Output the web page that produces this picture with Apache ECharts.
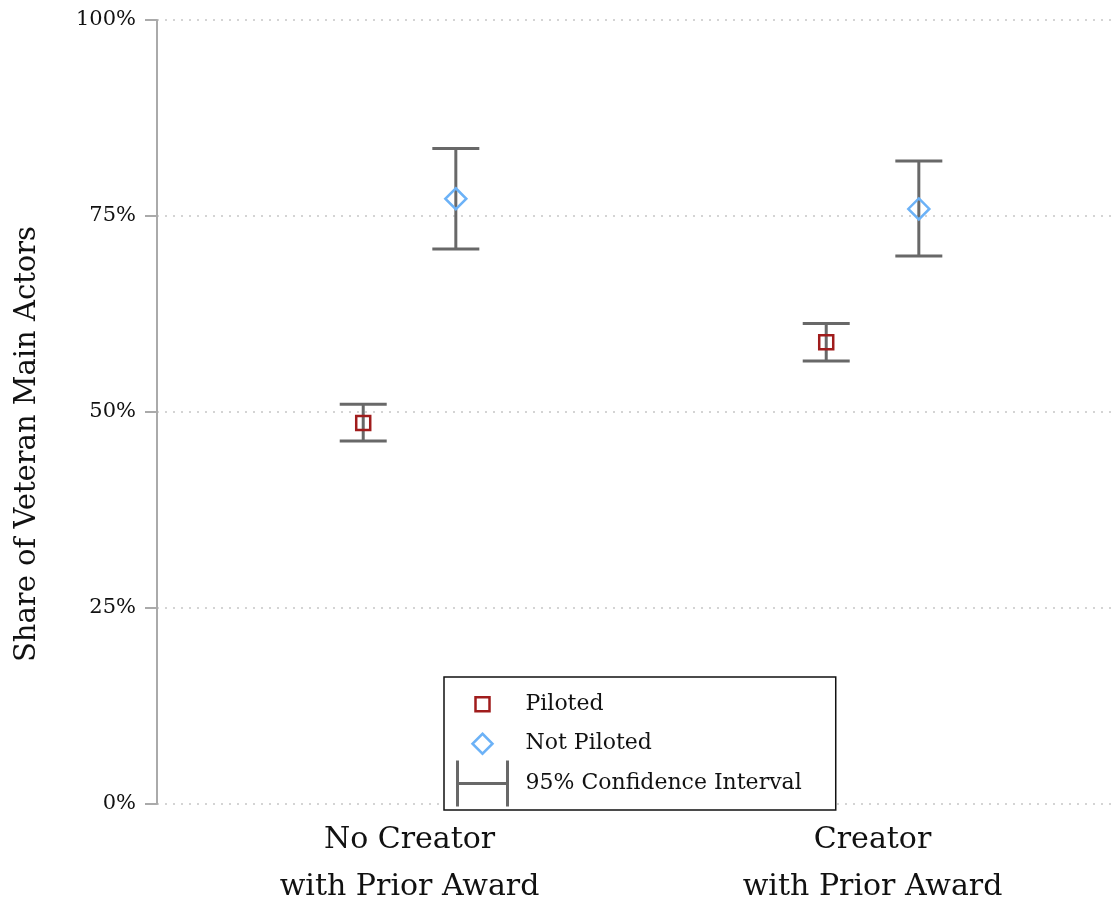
<!DOCTYPE html>
<html>
<head>
<meta charset="utf-8">
<script src="https://cdn.jsdelivr.net/npm/echarts@6/dist/echarts.min.js"></script>
<style>
  html, body { margin: 0; padding: 0; background: #fff; }
  #chart { width: 1117px; height: 911px; }
</style>
</head>
<body>
<div id="chart"></div>
<script>
// Share of veteran main actors, by creator award history and pilot status
const categories = ['No Creator\nwith Prior Award', 'Creator\nwith Prior Award'];
const piloted = [48.6, 58.9];
const pilotedLow = [46.3, 56.5];
const pilotedHigh = [51.0, 61.3];
const notPiloted = [77.2, 75.9];
const notPilotedLow = [70.8, 69.9];
const notPilotedHigh = [83.6, 82.0];
const yTicks = [0, 25, 50, 75, 100];

// horizontal offset of each series within its group (in category units)
const OFFSET = 0.1;
const FONT = 'DejaVu Serif';
const TEXT = '#111';
const CI_COLOR = '#686868';
const CAP = 47;

const pilotedPts = piloted.map((v, i) => [i + 1 - OFFSET, v]);
const notPilotedPts = notPiloted.map((v, i) => [i + 1 + OFFSET, v]);
const ciPts = [
  ...piloted.map((v, i) => [i + 1 - OFFSET, pilotedLow[i], pilotedHigh[i]]),
  ...notPiloted.map((v, i) => [i + 1 + OFFSET, notPilotedLow[i], notPilotedHigh[i]])
];

function renderCI(params, api) {
  const x = api.value(0);
  const top = api.coord([x, api.value(2)]);
  const bot = api.coord([x, api.value(1)]);
  const h = CAP / 2;
  const style = { stroke: CI_COLOR, lineWidth: 3 };
  return {
    type: 'group',
    children: [
      { type: 'line', shape: { x1: top[0], y1: top[1], x2: bot[0], y2: bot[1] }, style },
      { type: 'line', shape: { x1: top[0] - h, y1: top[1], x2: top[0] + h, y2: top[1] }, style },
      { type: 'line', shape: { x1: bot[0] - h, y1: bot[1], x2: bot[0] + h, y2: bot[1] }, style }
    ]
  };
}

const chart = echarts.init(document.getElementById('chart'), null, { renderer: 'canvas' });
chart.setOption({
  animation: false,
  backgroundColor: '#fff',
  grid: { left: 157, right: 2, top: 20, bottom: 101, containLabel: false },
  xAxis: {
    type: 'value',
    min: 0.4546,
    max: 2.5237,
    axisLine: { show: false },
    axisTick: { show: false },
    splitLine: { show: false },
    axisLabel: {
      customValues: [1, 2],
      formatter: v => categories[Math.round(v) - 1] || '',
      fontFamily: FONT,
      fontSize: 30,
      lineHeight: 47,
      color: TEXT,
      margin: 13
    }
  },
  yAxis: {
    type: 'value',
    min: yTicks[0],
    max: yTicks[yTicks.length - 1],
    interval: yTicks[1] - yTicks[0],
    name: 'Share of Veteran Main Actors',
    nameLocation: 'middle',
    nameRotate: 90,
    nameGap: 115,
    nameTextStyle: { fontFamily: FONT, fontSize: 29, color: TEXT, padding: [0, 64, 0, 0] },
    axisLine: { show: true, lineStyle: { color: '#aaaaaa', width: 2 } },
    axisTick: { show: true, inside: false, length: 12, lineStyle: { color: '#aaaaaa', width: 2 } },
    axisLabel: { formatter: '{value}%', fontFamily: FONT, fontSize: 21, color: TEXT, margin: 21 },
    splitLine: { show: true, lineStyle: { color: '#d4d4d4', width: 2, type: [2, 6] } }
  },
  legend: {
    orient: 'vertical',
    left: 444,
    top: 677,
    padding: [3, 34, 2, 12],
    itemWidth: 50,
    itemHeight: 46,
    itemGap: -9,
    backgroundColor: '#fff',
    borderColor: '#111',
    borderWidth: 1.5,
    borderRadius: 0,
    selectedMode: false,
    textStyle: { fontFamily: FONT, fontSize: 22, color: TEXT, padding: [0, 0, 0, 13] },
    data: [
      {
        name: 'Piloted',
        icon: 'path://M0,0 M50,46 M18,16 L32,16 L32,30 L18,30 Z',
        itemStyle: { color: 'rgba(0,0,0,0)', borderColor: '#a01c1c', borderWidth: 2.5 }
      },
      {
        name: 'Not Piloted',
        icon: 'path://M0,0 M50,46 M25,13 L35,23 L25,33 L15,23 Z',
        itemStyle: { color: 'rgba(0,0,0,0)', borderColor: '#6cb2f7', borderWidth: 2.5 }
      },
      {
        name: '95% Confidence Interval',
        icon: 'path://M0,0 L0,46 M0,23 L50,23 M50,0 L50,46',
        itemStyle: { color: 'rgba(0,0,0,0)', borderColor: CI_COLOR, borderWidth: 3 }
      }
    ]
  },
  series: [
    {
      name: '95% Confidence Interval',
      type: 'custom',
      renderItem: renderCI,
      encode: { x: 0, y: [1, 2] },
      data: ciPts,
      z: 2
    },
    {
      name: 'Piloted',
      type: 'scatter',
      data: pilotedPts,
      symbol: 'rect',
      symbolSize: 14,
      itemStyle: { color: 'rgba(0,0,0,0)', borderColor: '#a01c1c', borderWidth: 2.5, opacity: 1 },
      z: 3
    },
    {
      name: 'Not Piloted',
      type: 'scatter',
      data: notPilotedPts,
      symbol: 'diamond',
      symbolSize: 21,
      itemStyle: { color: 'rgba(0,0,0,0)', borderColor: '#6cb2f7', borderWidth: 2.5, opacity: 1 },
      z: 3
    }
  ]
});
</script>
</body>
</html>
